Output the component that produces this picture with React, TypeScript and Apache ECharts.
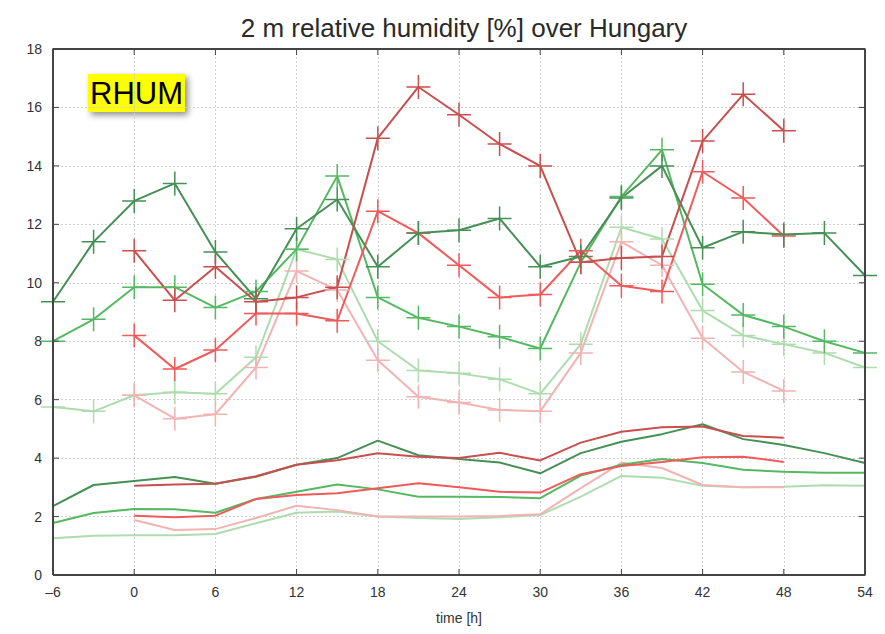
import React, { useEffect, useRef } from "react";
import * as echarts from "echarts";

const hours = [-6, -3, 0, 3, 6, 9, 12, 15, 18, 21, 24, 27, 30, 33, 36, 39, 42, 45, 48, 51, 54];
const xTicks = [-6, 0, 6, 12, 18, 24, 30, 36, 42, 48, 54];
const yTicks = [0, 2, 4, 6, 8, 10, 12, 14, 16, 18];

const darkGreenHi = [9.35, 11.4, 12.8, 13.4, 11.05, 9.45, 11.85, 12.85, 10.55, 11.7, 11.8, 12.2, 10.55, 10.9, 12.9, 14.0, 11.2, 11.75, 11.65, 11.7, 10.25];
const greenHi = [8.0, 8.75, 9.85, 9.85, 9.15, 9.7, 11.15, 13.65, 9.5, 8.8, 8.5, 8.15, 7.75, 10.7, 12.95, 14.55, 9.95, 8.9, 8.5, 8.0, 7.6];
const lightGreenHi = [5.75, 5.6, 6.15, 6.25, 6.2, 7.45, 11.15, 10.8, 8.0, 7.0, 6.9, 6.7, 6.2, 7.9, 11.9, 11.5, 9.05, 8.2, 7.9, 7.6, 7.1];
const darkRedHi = [null, null, 11.1, 9.4, 10.55, 9.35, 9.5, 9.85, 14.95, 16.7, 15.75, 14.75, 14.0, 10.7, 10.85, 10.9, 14.85, 16.45, 15.2, null, null];
const redHi = [null, null, 8.2, 7.05, 7.7, 8.95, 8.95, 8.7, 12.45, 11.7, 10.6, 9.5, 9.6, 11.1, 9.9, 9.7, 13.8, 12.9, 11.6, null, null];
const pinkHi = [null, null, 6.15, 5.35, 5.5, 7.1, 10.4, 9.75, 7.35, 6.1, 5.9, 5.65, 5.6, 7.6, 11.4, 10.6, 8.1, 6.95, 6.3, null, null];

const darkGreenLo = [2.36, 3.08, 3.22, 3.35, 3.12, 3.36, 3.77, 4.0, 4.6, 4.1, 3.97, 3.85, 3.48, 4.17, 4.56, 4.82, 5.16, 4.65, 4.45, 4.17, 3.83];
const greenLo = [1.78, 2.12, 2.26, 2.25, 2.13, 2.6, 2.85, 3.1, 2.93, 2.68, 2.68, 2.67, 2.63, 3.4, 3.77, 3.97, 3.83, 3.6, 3.53, 3.5, 3.5];
const lightGreenLo = [1.26, 1.34, 1.36, 1.36, 1.4, 1.77, 2.13, 2.17, 2.0, 1.95, 1.92, 1.98, 2.05, 2.68, 3.39, 3.33, 3.05, 3.0, 3.02, 3.07, 3.05];
const darkRedLo = [null, null, 3.05, 3.1, 3.12, 3.38, 3.77, 3.93, 4.17, 4.05, 4.0, 4.18, 3.92, 4.53, 4.9, 5.06, 5.08, 4.76, 4.7, null, null];
const redLo = [null, null, 2.03, 1.98, 2.03, 2.6, 2.74, 2.8, 2.97, 3.14, 3.0, 2.85, 2.82, 3.45, 3.73, 3.87, 4.03, 4.05, 3.87, null, null];
const pinkLo = [null, null, 1.88, 1.54, 1.57, 1.95, 2.37, 2.22, 2.0, 2.0, 2.0, 2.02, 2.08, 2.97, 3.84, 3.66, 3.08, 3.0, 3.0, null, null];

const C = {
  darkGreen: "#468f55",
  green: "#55b862",
  lightGreen: "#aedcae",
  darkRed: "#c94f4f",
  red: "#f05a5a",
  pink: "#f2b3b3",
};

const CROSS = "path://M12,0 L12,24 M0,12 L24,12";

function pairs(vals: (number | null)[]) {
  const out: number[][] = [];
  vals.forEach((v, i) => {
    if (v !== null) out.push([hours[i], v]);
  });
  return out;
}

function hi(name: string, vals: (number | null)[], color: string) {
  return {
    name,
    type: "line",
    data: pairs(vals),
    symbol: CROSS,
    symbolSize: 24,
    showSymbol: true,
    lineStyle: { color, width: 2 },
    itemStyle: { color: "none", borderColor: color, borderWidth: 1.5 },
    emphasis: { disabled: true },
  };
}

function lo(name: string, vals: (number | null)[], color: string) {
  return {
    name,
    type: "line",
    data: pairs(vals),
    symbol: "none",
    lineStyle: { color, width: 2 },
    emphasis: { disabled: true },
  };
}

const X0 = xTicks[0];
const X1 = xTicks[xTicks.length - 1];
const Y0 = yTicks[0];
const Y1 = yTicks[yTicks.length - 1];

// plot frame as an unclipped line series along the axes' extents
function frameLine() {
  return {
    name: "frame",
    type: "line",
    silent: true,
    clip: false,
    symbol: "none",
    z: 20,
    data: [[X0, Y0], [X1, Y0], [X1, Y1], [X0, Y1], [X0, Y0]],
    lineStyle: { color: "#444", width: 2 },
    emphasis: { disabled: true },
  };
}

// inward tick marks, segments separated by gaps
function tickLine() {
  const dy = (Y1 - Y0) * (6 / 526);
  const dx = (X1 - X0) * (6 / 812);
  const d: any[] = [];
  xTicks.forEach((t) => {
    d.push([t, Y0], [t, Y0 + dy], "-", [t, Y1], [t, Y1 - dy], "-");
  });
  yTicks.forEach((t) => {
    d.push([X0, t], [X0 + dx, t], "-", [X1, t], [X1 - dx, t], "-");
  });
  return {
    name: "ticks",
    type: "line",
    silent: true,
    clip: false,
    symbol: "none",
    connectNulls: false,
    z: 20,
    data: d,
    lineStyle: { color: "#444", width: 1 },
    emphasis: { disabled: true },
  };
}

export default function App() {
  const ref = useRef<HTMLDivElement>(null);
  useEffect(() => {
    const chart = echarts.init(ref.current!, null, { renderer: "svg" });
    const font = "Liberation Sans, Arial, sans-serif";
    chart.setOption({
      animation: false,
      backgroundColor: "#fff",
      title: {
        text: "2 m relative humidity [%] over Hungary",
        left: 459,
        textAlign: "center",
        top: 10,
        textStyle: { fontFamily: font, fontSize: 26, fontWeight: "normal", color: "#2a2a2a" },
      },
      grid: { left: 53, right: 20, top: 49, bottom: 59 },
      xAxis: {
        type: "value",
        min: X0,
        max: X1,
        interval: 6,
        name: "time [h]",
        nameLocation: "middle",
        nameGap: 36,
        nameTextStyle: { fontFamily: font, fontSize: 14, color: "#333" },
        axisLine: { show: false },
        axisTick: { show: false },
        axisLabel: {
          fontFamily: font,
          fontSize: 14,
          color: "#333",
          margin: 10,
          formatter: (v: number) => String(v).replace("-", "\u2013"),
        },
        splitLine: { show: true, lineStyle: { color: "#cfcfcf", type: [2, 2], width: 1 } },
      },
      yAxis: {
        type: "value",
        min: Y0,
        max: Y1,
        interval: 2,
        axisLine: { show: false },
        axisTick: { show: false },
        axisLabel: { fontFamily: font, fontSize: 14, color: "#333", margin: 11 },
        splitLine: { show: true, lineStyle: { color: "#cfcfcf", type: [2, 2], width: 1 } },
      },
      series: [
        lo("lightGreenLo", lightGreenLo, C.lightGreen),
        lo("pinkLo", pinkLo, C.pink),
        lo("greenLo", greenLo, C.green),
        lo("redLo", redLo, C.red),
        lo("darkGreenLo", darkGreenLo, C.darkGreen),
        lo("darkRedLo", darkRedLo, C.darkRed),
        hi("lightGreenHi", lightGreenHi, C.lightGreen),
        hi("pinkHi", pinkHi, C.pink),
        hi("greenHi", greenHi, C.green),
        hi("redHi", redHi, C.red),
        hi("darkGreenHi", darkGreenHi, C.darkGreen),
        hi("darkRedHi", darkRedHi, C.darkRed),
        frameLine(),
        tickLine(),
      ],
      graphic: [
        {
          type: "group",
          left: 88,
          top: 74,
          z: 100,
          children: [
            {
              type: "rect",
              shape: { x: 0, y: 0, width: 97, height: 38 },
              style: {
                fill: "#ffff00",
                shadowBlur: 6,
                shadowOffsetX: 3,
                shadowOffsetY: 3,
                shadowColor: "rgba(0,0,0,0.45)",
              },
            },
            {
              type: "text",
              x: 48.5,
              y: 19,
              style: {
                text: "RHUM",
                fontFamily: font,
                fontSize: 31,
                fill: "#000",
                align: "center",
                verticalAlign: "middle",
              },
            },
          ],
        },
      ],
    });
    return () => chart.dispose();
  }, []);
  return <div ref={ref} style={{ position: "fixed", left: 0, top: 0, width: 885, height: 634 }} />;
}
